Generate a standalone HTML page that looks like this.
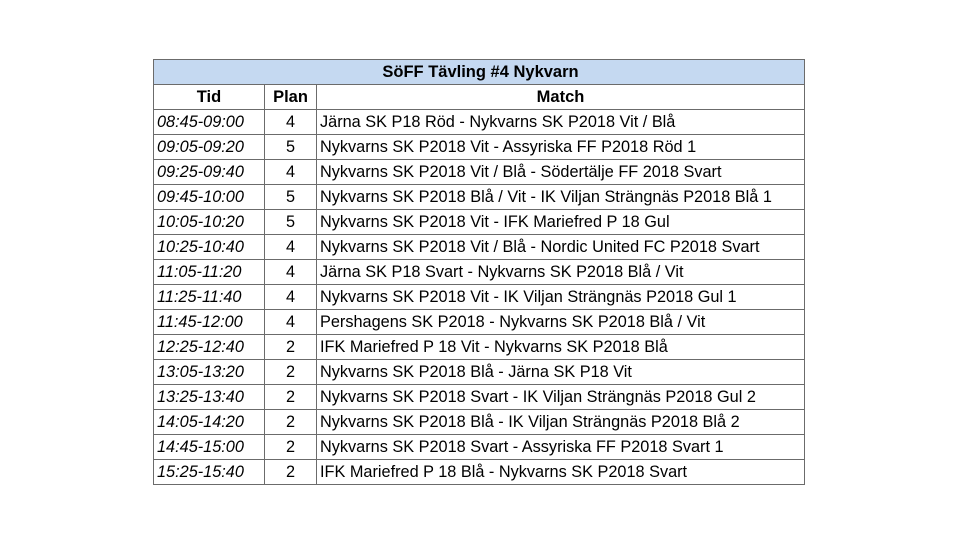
<!DOCTYPE html>
<html><head><meta charset="utf-8"><style>
html,body{margin:0;padding:0;background:#fff;width:960px;height:554px;overflow:hidden}
table{position:absolute;left:153px;top:59px;border-collapse:collapse;font-family:"Liberation Sans",sans-serif;font-size:16.3px;color:#000;table-layout:fixed}
td{border:1px solid #6b6b6b;height:24px;padding:0 0 0 3px;white-space:nowrap;overflow:hidden;line-height:24px}
td.t{font-style:italic}
td.c{text-align:center;padding:0}
tr.h td{font-weight:bold;text-align:center;padding:0;font-size:16.5px}
tr.top td{background:#c5d9f1;font-weight:bold;text-align:center;font-size:16.5px}
</style></head><body>
<table>
<colgroup><col style="width:111px"><col style="width:52px"><col style="width:488px"></colgroup>
<tr class="top"><td colspan="3">SöFF Tävling #4 Nykvarn</td></tr>
<tr class="h"><td>Tid</td><td>Plan</td><td>Match</td></tr>
<tr><td class="t">08:45-09:00</td><td class="c">4</td><td>Järna SK P18 Röd - Nykvarns SK P2018 Vit / Blå</td></tr>
<tr><td class="t">09:05-09:20</td><td class="c">5</td><td>Nykvarns SK P2018 Vit - Assyriska FF P2018 Röd 1</td></tr>
<tr><td class="t">09:25-09:40</td><td class="c">4</td><td>Nykvarns SK P2018 Vit / Blå - Södertälje FF 2018 Svart</td></tr>
<tr><td class="t">09:45-10:00</td><td class="c">5</td><td>Nykvarns SK P2018 Blå / Vit - IK Viljan Strängnäs P2018 Blå 1</td></tr>
<tr><td class="t">10:05-10:20</td><td class="c">5</td><td>Nykvarns SK P2018 Vit - IFK Mariefred P 18 Gul</td></tr>
<tr><td class="t">10:25-10:40</td><td class="c">4</td><td>Nykvarns SK P2018 Vit / Blå - Nordic United FC P2018 Svart</td></tr>
<tr><td class="t">11:05-11:20</td><td class="c">4</td><td>Järna SK P18 Svart - Nykvarns SK P2018 Blå / Vit</td></tr>
<tr><td class="t">11:25-11:40</td><td class="c">4</td><td>Nykvarns SK P2018 Vit - IK Viljan Strängnäs P2018 Gul 1</td></tr>
<tr><td class="t">11:45-12:00</td><td class="c">4</td><td>Pershagens SK P2018 - Nykvarns SK P2018 Blå / Vit</td></tr>
<tr><td class="t">12:25-12:40</td><td class="c">2</td><td>IFK Mariefred P 18 Vit - Nykvarns SK P2018 Blå</td></tr>
<tr><td class="t">13:05-13:20</td><td class="c">2</td><td>Nykvarns SK P2018 Blå - Järna SK P18 Vit</td></tr>
<tr><td class="t">13:25-13:40</td><td class="c">2</td><td>Nykvarns SK P2018 Svart - IK Viljan Strängnäs P2018 Gul 2</td></tr>
<tr><td class="t">14:05-14:20</td><td class="c">2</td><td>Nykvarns SK P2018 Blå - IK Viljan Strängnäs P2018 Blå 2</td></tr>
<tr><td class="t">14:45-15:00</td><td class="c">2</td><td>Nykvarns SK P2018 Svart - Assyriska FF P2018 Svart 1</td></tr>
<tr><td class="t">15:25-15:40</td><td class="c">2</td><td>IFK Mariefred P 18 Blå - Nykvarns SK P2018 Svart</td></tr>
</table>
</body></html>
